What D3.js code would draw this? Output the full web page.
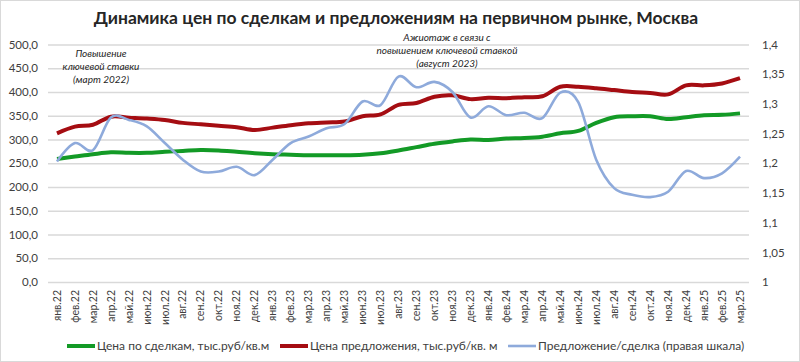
<!DOCTYPE html>
<html>
<head>
<meta charset="utf-8">
<script src="https://cdn.jsdelivr.net/npm/d3@7"></script>
<style>
  body { margin: 0; background: #fff; }
  text { font-family: Lato, "Noto Sans", sans-serif; fill: #333; }
</style>
</head>
<body>
<script>
// months, jan 2022 .. mar 2025
var months = ["янв.22","фев.22","мар.22","апр.22","май.22","июн.22","июл.22","авг.22","сен.22","окт.22","ноя.22","дек.22",
  "янв.23","фев.23","мар.23","апр.23","май.23","июн.23","июл.23","авг.23","сен.23","окт.23","ноя.23","дек.23",
  "янв.24","фев.24","мар.24","апр.24","май.24","июн.24","июл.24","авг.24","сен.24","окт.24","ноя.24","дек.24",
  "янв.25","фев.25","мар.25"];

// тыс.руб/кв.м
var dealPrice = [259,264,269,273,272,272,274,276,278,277,274,271,
  269,268,267,267,267,268,271,277,284,291,296,300,
  299,302,303,306,313,318,335,347,349,349,343,347,
  351,352,355];
var offerPrice = [313,327,331,348,346,344,341,335,332,329,326,320,
  325,330,334,336,338,349,353,373,377,390,393,385,
  388,387,389,391,411,411,408,404,400,398,395,414,
  414,418,429];
// right axis
var ratio = [1.203,1.234,1.222,1.277,1.273,1.262,1.234,1.206,1.186,1.186,1.194,1.180,
  1.206,1.234,1.245,1.259,1.266,1.304,1.298,1.346,1.328,1.337,1.320,1.277,
  1.296,1.281,1.285,1.276,1.319,1.303,1.206,1.158,1.147,1.143,1.152,1.187,
  1.175,1.183,1.211];

var leftTicks = [0,50,100,150,200,250,300,350,400,450,500];
var rightTicks = [1,1.05,1.1,1.15,1.2,1.25,1.3,1.35,1.4];

var width = 800, height = 362;
var plotL = 48, plotR = 749, plotT = 44.5, plotB = 282;

var svg = d3.select("body").append("svg")
  .attr("width", width)
  .attr("height", height);

svg.append("rect")
  .attr("x", 0.5).attr("y", 0.5)
  .attr("width", width - 1).attr("height", height - 1)
  .attr("fill", "#fff").attr("stroke", "#d9d9d9");

var x = d3.scaleBand().domain(months).range([plotL, plotR]).padding(0);
var yL = d3.scaleLinear().domain([0, 500]).range([plotB, plotT]);
var yR = d3.scaleLinear().domain([1, 1.4]).range([plotB, plotT]);

// title
svg.append("text")
  .attr("x", 396).attr("y", 24)
  .attr("text-anchor", "middle")
  .style("font-size", "17.5px").style("font-weight", "bold")
  .style("fill", "#262626")
  .text("Динамика цен по сделкам и предложениям на первичном рынке, Москва");

// left axis + grid
var gL = svg.append("g")
  .attr("transform", "translate(" + plotL + ",0)")
  .call(d3.axisLeft(yL).tickValues(leftTicks)
    .tickSizeInner(-(plotR - plotL)).tickSizeOuter(0).tickPadding(10)
    .tickFormat(function(d){ return d3.format(".1f")(d).replace(".", ","); }));
gL.select(".domain").remove();
gL.selectAll("line").attr("stroke", "#d9d9d9").attr("stroke-width", 1.5);
gL.selectAll("text").style("font-size", "11.5px").style("fill", "#404040");

// right axis
var gR = svg.append("g")
  .attr("transform", "translate(" + plotR + ",0)")
  .call(d3.axisRight(yR).tickValues(rightTicks).tickSize(0).tickPadding(13)
    .tickFormat(function(d){ return String(+d.toFixed(2)).replace(".", ","); }));
gR.select(".domain").remove();
gR.selectAll("text").style("font-size", "11.5px").style("fill", "#404040");

// x axis
var gX = svg.append("g")
  .attr("transform", "translate(0," + plotB + ")")
  .call(d3.axisBottom(x).tickSize(0));
gX.select(".domain").remove();
gX.selectAll("text")
  .attr("transform", "rotate(-90)")
  .attr("x", -8).attr("y", 0).attr("dy", "0.35em")
  .style("text-anchor", "end")
  .style("font-size", "10.5px").style("fill", "#404040");

function cx(d, i) { return x(months[i]) + x.bandwidth() / 2; }

var lineL = d3.line().x(cx).y(function(d){ return yL(d); }).curve(d3.curveCardinal.tension(0));
var lineR = d3.line().x(cx).y(function(d){ return yR(d); }).curve(d3.curveCardinal.tension(0));

svg.append("path").datum(dealPrice)
  .attr("d", lineL).attr("fill", "none")
  .attr("stroke", "#139a26").attr("stroke-width", 4).attr("stroke-linejoin", "round");
svg.append("path").datum(offerPrice)
  .attr("d", lineL).attr("fill", "none")
  .attr("stroke", "#a50d12").attr("stroke-width", 4).attr("stroke-linejoin", "round");
svg.append("path").datum(ratio)
  .attr("d", lineR).attr("fill", "none")
  .attr("stroke", "#8eaadb").attr("stroke-width", 2.6).attr("stroke-linejoin", "round");

// annotations
function note(xc, y0, lines) {
  lines.forEach(function(t, i) {
    svg.append("text")
      .attr("x", xc).attr("y", y0 + i * 13)
      .attr("text-anchor", "middle")
      .style("font-size", "10px").style("font-style", "italic")
      .style("fill", "#262626")
      .text(t);
  });
}
note(101, 57, ["Повышение", "ключевой ставки", "(март 2022)"]);
note(447, 41, ["Ажиотаж в связи с", "повышением ключевой ставкой", "(август 2023)"]);

// legend
var legend = [
  {name: "Цена по сделкам, тыс.руб/кв.м", color: "#139a26", w: 4, x: 67},
  {name: "Цена предложения, тыс.руб/кв. м", color: "#a50d12", w: 4, x: 280},
  {name: "Предложение/сделка (правая шкала)", color: "#8eaadb", w: 2.6, x: 508}
];
var lg = svg.selectAll("g.leg").data(legend).enter().append("g")
  .attr("class", "leg")
  .attr("transform", function(d){ return "translate(" + d.x + ",346)"; });
lg.append("line")
  .attr("x1", 0).attr("x2", 28).attr("y1", 0).attr("y2", 0)
  .attr("stroke", function(d){ return d.color; })
  .attr("stroke-width", function(d){ return d.w; });
lg.append("text")
  .attr("x", 30).attr("y", 0).attr("dy", "0.35em")
  .style("font-size", "12px").style("fill", "#404040")
  .text(function(d){ return d.name; });
</script>
</body>
</html>
